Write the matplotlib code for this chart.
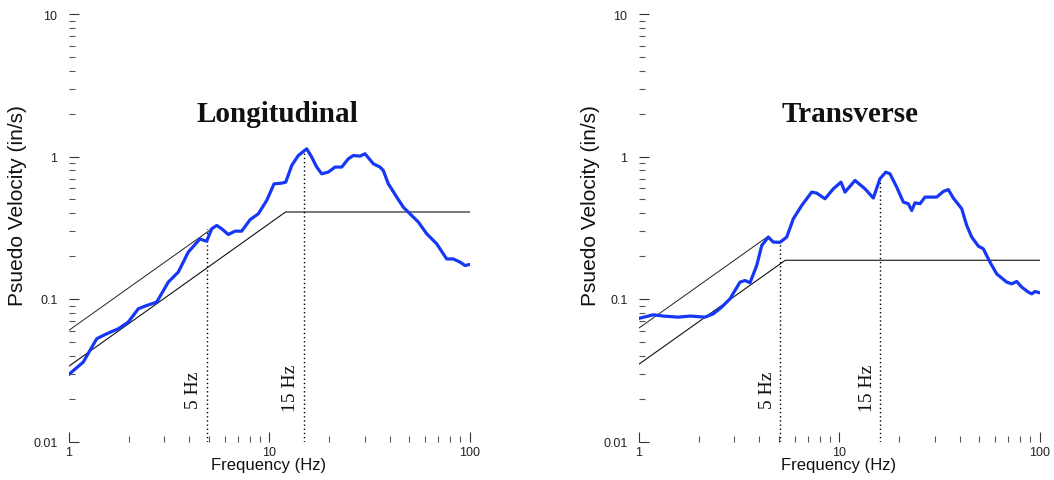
import matplotlib
matplotlib.use("Agg")
import matplotlib.pyplot as plt
from matplotlib.ticker import FixedLocator, FixedFormatter, NullFormatter

# ---------------- data ----------------
long_freq = [1.0, 1.185, 1.382, 1.55, 1.772, 1.987, 2.229, 2.455, 2.754, 3.147,
             3.528, 3.958, 4.528, 4.74, 4.89, 5.178, 5.486, 5.809, 6.266, 6.767,
             7.308, 8.039, 8.844, 9.739, 10.59, 11.57, 12.12, 12.98, 14.0, 15.42,
             16.33, 17.3, 18.32, 19.76, 21.34, 23.05, 24.86, 26.33, 28.44, 30.12,
             33.13, 35.78, 37.16, 39.36, 43.36, 46.76, 50.49, 55.54, 61.17, 68.61,
             76.96, 83.05, 89.68, 94.97, 100.0]
long_vel = [0.0294, 0.0361, 0.0526, 0.057, 0.0618, 0.0689, 0.0854, 0.09, 0.0951, 0.1315,
            0.1545, 0.2134, 0.2644, 0.2574, 0.2548, 0.311, 0.3281, 0.311, 0.2836, 0.2994,
            0.2994, 0.3597, 0.3963, 0.4912, 0.6426, 0.6502, 0.661, 0.8647, 1.016, 1.132,
            0.99, 0.843, 0.756, 0.777, 0.843, 0.843, 0.963, 1.016, 1.006, 1.045,
            0.889, 0.843, 0.798, 0.643, 0.519, 0.441, 0.396, 0.347, 0.287, 0.244,
            0.191, 0.191, 0.1815, 0.1718, 0.1746]

trans_freq = [1.0, 1.185, 1.329, 1.579, 1.807, 2.147, 2.361, 2.6, 2.86, 3.208,
              3.398, 3.598, 3.887, 4.117, 4.441, 4.703, 5.079, 5.486, 5.918, 6.516,
              7.308, 7.741, 8.516, 9.367, 10.23, 10.71, 12.02, 13.48, 14.83, 16.01,
              17.1, 17.96, 19.4, 20.93, 22.16, 23.05, 23.94, 25.35, 26.85, 30.72,
              33.13, 35.09, 37.16, 40.93, 43.36, 45.91, 49.53, 52.45, 56.62, 61.17,
              68.61, 72.66, 76.96, 81.51, 87.94, 91.44, 94.97, 100.0]
trans_vel = [0.073, 0.0775, 0.0759, 0.0746, 0.0759, 0.0746, 0.0787, 0.0877, 0.1003, 0.1314,
             0.1348, 0.130, 0.1718, 0.2373, 0.2718, 0.2508, 0.250, 0.2718, 0.3655, 0.453,
             0.5627, 0.5536, 0.505, 0.593, 0.661, 0.5627, 0.679, 0.593, 0.511, 0.698,
             0.777, 0.756, 0.61, 0.479, 0.466, 0.418, 0.473, 0.466, 0.519, 0.519,
             0.568, 0.586, 0.511, 0.43, 0.328, 0.272, 0.235, 0.225, 0.1815, 0.150,
             0.1314, 0.1278, 0.1327, 0.1212, 0.1117, 0.1087, 0.1129, 0.1106]

long_upper_freq = [1.0, 5.2]
long_upper_vel = [0.060, 0.312]
long_lower_freq = [1.0, 12.1, 100.0]
long_lower_vel = [0.0336, 0.408, 0.408]

trans_upper_freq = [1.0, 4.44]
trans_upper_vel = [0.0622, 0.276]
trans_lower_freq = [1.0, 5.4, 100.0]
trans_lower_vel = [0.0347, 0.187, 0.187]

long_mark_freq = [4.9, 15.0]
long_mark_top = [0.311, 1.13]
long_mark_text = ["5 Hz", "15 Hz"]
trans_mark_freq = [5.1, 16.1]
trans_mark_top = [0.252, 0.66]
trans_mark_text = ["5 Hz", "15 Hz"]
mark_text_bottom = [0.0172, 0.0165]

x_ticks = [1, 10, 100]
x_ticklabels = ["1", "10", "100"]
y_ticks = [0.01, 0.1, 1, 10]
y_ticklabels = ["0.01", "0.1", "1", "10"]

titles = ["Longitudinal", "Transverse"]
xlabel = "Frequency (Hz)"
ylabel = "Psuedo Velocity (in/s)"

# ---------------- figure ----------------
W, H = 1054, 481
fig = plt.figure(figsize=(W / 100, H / 100), dpi=100)
fig.patch.set_facecolor("white")

SANS = ["Liberation Sans", "DejaVu Sans"]
SERIF = ["Liberation Serif", "DejaVu Serif"]
BLUE = "#1638f5"


def minor_list(lo_exp, hi_exp):
    out = []
    for e in range(lo_exp, hi_exp):
        for m in range(2, 10):
            out.append(m * 10.0 ** e)
    return out


def panel(left_px, freq, vel, up_f, up_v, lo_f, lo_v, mk_f, mk_top, mk_txt,
          title, title_xfrac, ylab_px, xlab_px):
    ax = fig.add_axes([left_px / W, (H - 442.5) / H, 401 / W, 427.5 / H])
    ax.set_xscale("log")
    ax.set_yscale("log")
    ax.set_xlim(1, 100)
    ax.set_ylim(0.01, 10)
    for s in ax.spines.values():
        s.set_visible(False)
    ax.patch.set_alpha(0)

    ax.xaxis.set_major_locator(FixedLocator(x_ticks))
    ax.xaxis.set_major_formatter(FixedFormatter(x_ticklabels))
    ax.xaxis.set_minor_locator(FixedLocator(minor_list(0, 2)))
    ax.xaxis.set_minor_formatter(NullFormatter())
    ax.yaxis.set_major_locator(FixedLocator(y_ticks))
    ax.yaxis.set_major_formatter(FixedFormatter(y_ticklabels))
    ax.yaxis.set_minor_locator(FixedLocator(minor_list(-2, 1)))
    ax.yaxis.set_minor_formatter(NullFormatter())

    ax.tick_params(axis="both", which="major", direction="in", length=7.5,
                   width=0.8, color="#333333", labelsize=9, labelcolor="#222222")
    ax.tick_params(axis="both", which="minor", direction="in", length=4,
                   width=0.8, color="#555555")
    ax.tick_params(axis="y", which="major", pad=8)
    ax.tick_params(axis="x", which="major", pad=3)
    for lab in ax.get_xticklabels() + ax.get_yticklabels():
        lab.set_family(SANS)

    # reference lines
    ax.plot(up_f, up_v, color="#222222", lw=0.7, zorder=2)
    ax.plot(lo_f, lo_v, color="#111111", lw=0.8, zorder=2)

    # marker dotted lines & labels
    for f, top, txt, yb in zip(mk_f, mk_top, mk_txt, mark_text_bottom):
        ax.plot([f, f], [0.01, top], color="black", lw=1.0,
                linestyle=(0, (1, 2)), zorder=2)
        ax.annotate(txt, xy=(f, yb), xytext=(-3.5, 0), textcoords="offset points",
                    rotation=90, ha="right", va="bottom", fontsize=14,
                    family=SERIF, color="#111111")

    # response curve
    ax.plot(freq, vel, color=BLUE, lw=2.3, zorder=3, solid_joinstyle="round",
            solid_capstyle="round")

    ax.text(title_xfrac, (442.5 - 122) / 427.5, title, transform=ax.transAxes,
            ha="center", va="baseline", fontsize=21, fontweight="bold",
            family=SERIF, color="#111111")

    fig.text(ylab_px / W, (H - 206) / H, ylabel, rotation=90, ha="center",
             va="center", fontsize=15, family=SANS, color="#111111")
    fig.text(xlab_px / W, (H - 466) / H, xlabel, ha="center", va="center",
             fontsize=12, family=SANS, color="#111111")
    return ax


panel(68.5, long_freq, long_vel, long_upper_freq, long_upper_vel,
      long_lower_freq, long_lower_vel, long_mark_freq, long_mark_top,
      long_mark_text, titles[0], 0.521, 18, 268.5)
panel(638.5, trans_freq, trans_vel, trans_upper_freq, trans_upper_vel,
      trans_lower_freq, trans_lower_vel, trans_mark_freq, trans_mark_top,
      trans_mark_text, titles[1], 0.527, 590, 838.5)

fig.savefig("out.png", dpi=100, facecolor="white")
